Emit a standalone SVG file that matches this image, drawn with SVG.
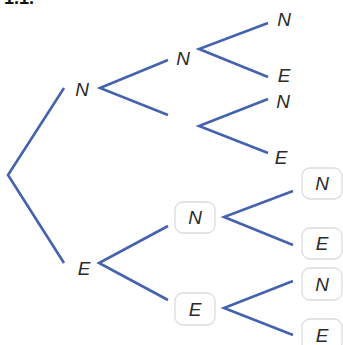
<svg xmlns="http://www.w3.org/2000/svg" width="343" height="345" viewBox="0 0 343 345">
<style>
.l{stroke:#4562ae;stroke-width:2.6;fill:none;stroke-linecap:butt;stroke-linejoin:miter}
.t{font-family:"Liberation Sans",Arial,sans-serif;font-style:italic;font-size:19px;fill:#2a2a2a;text-anchor:middle}
.b{fill:#fff;stroke:#dcdcdc;stroke-width:1.3}
.h{font-family:"Liberation Sans",Arial,sans-serif;font-weight:bold;font-size:18px;fill:#111}
</style>
<rect width="343" height="345" fill="#fff"/>
<text class="h" x="4" y="4">1.1.</text>
<g id="connectors">
<polyline class="l" points="64,88 8,175 64,263"/>
<polyline class="l" points="168,60 100,88 168,115"/>
<polyline class="l" points="268,23 199,49 268,77"/>
<polyline class="l" points="268,99 199,126 268,153"/>
<polyline class="l" points="168,226 99,263 168,300"/>
<polyline class="l" points="293,191 224,217 293,245"/>
<polyline class="l" points="293,281 224,308 293,335"/>
</g>
<g id="n1"><text class="t" x="82" y="96">N</text></g>
<g id="e1"><text class="t" x="84" y="275">E</text></g>
<g id="nn"><text class="t" x="183" y="65">N</text></g>
<g id="nnn"><text class="t" x="284" y="26">N</text></g>
<g id="nne"><text class="t" x="284" y="82">E</text></g>
<g id="nen"><text class="t" x="283" y="108">N</text></g>
<g id="nee"><text class="t" x="281" y="164">E</text></g>
<g id="en"><rect class="b" x="175" y="202" width="40" height="31" rx="8"/><text class="t" x="195" y="224">N</text></g>
<g id="ee"><rect class="b" x="175" y="293" width="40" height="32" rx="8"/><text class="t" x="195" y="316">E</text></g>
<g id="enn"><rect class="b" x="302" y="168" width="40" height="31" rx="8"/><text class="t" x="322" y="190">N</text></g>
<g id="ene"><rect class="b" x="302" y="228" width="40" height="31" rx="8"/><text class="t" x="322" y="250">E</text></g>
<g id="een"><rect class="b" x="302" y="268" width="40" height="32" rx="8"/><text class="t" x="322" y="291">N</text></g>
<g id="eee"><rect class="b" x="302" y="319" width="40" height="32" rx="8"/><text class="t" x="322" y="342">E</text></g>
</svg>
